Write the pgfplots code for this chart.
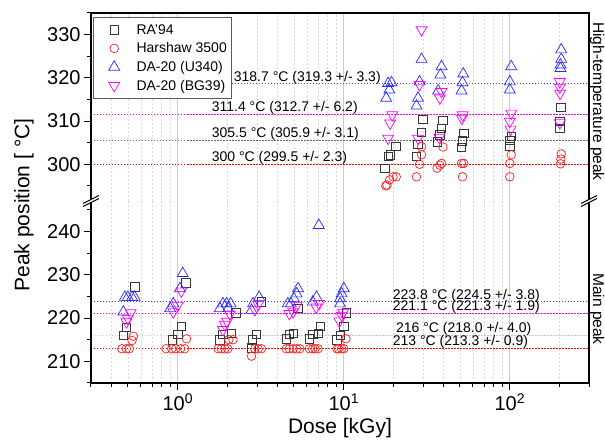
\documentclass[border=0pt]{standalone}
\usepackage{pgfplots}
\pgfplotsset{compat=1.18}
\usepackage{fontspec}
\setmainfont{Liberation Sans}
\definecolor{rablack}{RGB}{55,55,55}
\definecolor{hred}{RGB}{255,30,30}
\definecolor{ublue}{RGB}{40,40,255}
\definecolor{bmag}{RGB}{255,0,255}
\pgfplotsset{
  ra/.style={only marks, color=rablack, mark=square, mark size=4.2pt, mark options={line width=0.7pt},
    legend image code/.code={\path (0pt,0pt) (37.5pt,0pt); \draw[##1] plot coordinates {(17.5pt,0pt)};}},
  hs/.style={only marks, color=hred, mark=o, mark size=4.3pt, mark options={line width=0.7pt},
    legend image code/.code={\path (0pt,0pt) (37.5pt,0pt); \draw[##1] plot coordinates {(17.5pt,0pt)};}},
  uu/.style={only marks, color=ublue, mark=triangle, mark size=6.3pt, mark options={line width=0.7pt},
    legend image code/.code={\path (0pt,0pt) (37.5pt,0pt); \draw[##1] plot coordinates {(17.5pt,0pt)};}},
  bg/.style={only marks, color=bmag, mark=triangle, mark size=6.3pt, mark options={rotate=180, line width=0.7pt},
    legend image code/.code={\path (0pt,0pt) (37.5pt,0pt); \draw[##1] plot coordinates {(17.5pt,0pt)};}},
  refl/.style={forget plot, line width=1pt, dash pattern=on 1.5pt off 1.5pt},
}
\begin{document}
\begin{tikzpicture}
\path[use as bounding box] (-91pt,-61pt) rectangle (514pt,383pt);
% bottom panel
\begin{semilogxaxis}[scale only axis, width=498pt, height=182pt, xmin=0.3, xmax=300,
  at={(0pt,0pt)}, anchor=south west,
  axis line style={draw=none},
  tick align=outside, major tick length=7pt, minor tick length=4pt,
  tick style={black, line width=1pt},
  xtick={1,10,100},
  minor xtick={0.3,0.4,0.5,0.6,0.7,0.8,0.9,2,3,4,5,6,7,8,9,20,30,40,50,60,70,80,90,200,300},
  xmajorgrids, xminorgrids,
  major grid style={gray!40, line width=0.8pt},
  minor grid style={gray!30, line width=0.6pt, dash pattern=on 2pt off 2pt},
  ytick pos=left, xtick pos=bottom,
  tick label style={font=\fontsize{20}{24}\selectfont},
  clip=false,
  ymin=205, ymax=247, ytick={210,220,230,240}, minor ytick={205,215,225,235,245},
  yticklabels={210,220,230,240},
  xticklabels={10\textsuperscript{0},10\textsuperscript{1},10\textsuperscript{2}}]
\addplot[refl, color=red] coordinates {(0.3,213) (300,213)};
\addplot[refl, color=blue!75, dash pattern=on 1pt off 2pt, line width=1.2pt] coordinates {(0.3,223.8) (300,223.8)};
\addplot[refl, color=bmag] coordinates {(0.3,221.1) (300,221.1)};
\addplot[refl, color=gray!45] coordinates {(0.3,216) (300,216)};
\addplot[ra] coordinates {
(0.55,227.2)(0.49,217.9)(0.47,216.0)
(1.12,228.1)(1.05,218.1)(1.0,216.2)(0.93,215.0)
(2.24,221.2)(2.10,216.4)(1.87,216.2)(1.79,215.0)
(3.19,223.7)(2.98,216.2)(2.82,215.0)(2.78,213.1)
(5.3,222.2)(4.95,216.5)(4.7,216.2)(4.5,215.2)
(7.2,218.1)(7.0,216.5)(6.5,216.2)(6.2,215.2)
(10.4,221.2)(10.0,218.1)(9.5,216.0)(9.1,215.0)};
\addplot[hs] coordinates {
(0.46,212.9)(0.49,212.9)(0.51,212.9)(0.54,215.8)(0.53,214.8)
(0.85,212.9)(0.92,212.9)(0.97,212.9)(1.04,212.9)(1.10,212.9)(1.13,215.2)
(1.75,212.9)(1.83,212.9)(1.92,212.9)(2.0,212.9)(2.03,215.0)(2.15,215.0)
(2.91,212.9)(3.05,212.9)(3.19,212.9)(2.78,211.2)
(4.5,212.9)(4.7,212.9)(4.95,212.9)(5.2,212.9)(5.43,212.9)
(6.2,212.9)(6.5,212.9)(6.7,212.9)(7.0,212.9)
(9.1,212.9)(9.3,212.9)(9.7,212.9)(10.0,212.9)(10.3,215.2)};
\addplot[uu] coordinates {
(0.48,224.8)(0.50,224.8)(0.53,224.8)(0.55,224.8)(0.47,221.4)
(1.07,230.3)(1.03,226.8)(0.94,223.3)(0.90,222.2)
(1.87,223.3)(1.97,223.3)(2.08,223.3)(1.79,222.2)(2.01,222.2)
(3.09,224.8)(2.84,223.3)(2.78,221.8)
(5.3,226.8)(5.2,225.6)(5.0,224.5)(4.6,223.3)(4.8,223.3)
(6.85,224.8)(6.5,223.7)(7.07,241.4)
(10.0,226.8)(9.7,225.6)(9.5,224.5)(9.5,223.3)};
\addplot[bg] coordinates {
(0.52,221.2)(0.50,219.9)(0.49,219.1)
(1.05,226.2)(1.0,222.9)(0.94,221.4)
(2.06,220.9)(1.98,219.2)(1.92,218.5)(1.87,217.3)
(3.05,223.1)(2.91,221.9)
(5.2,222.9)(4.95,221.4)(4.7,221.0)
(7.1,223.3)(6.8,222.5)
(9.9,221.2)(9.7,220.6)(9.4,219.3)};
\node[anchor=west, inner sep=0pt, font=\fontsize{14}{16}\selectfont] at (axis cs:19.7,225.2) {223.8 °C (224.5 +/- 3.8)};
\node[anchor=west, inner sep=0pt, font=\fontsize{14}{16}\selectfont] at (axis cs:19.7,222.5) {221.1 °C (221.3 +/- 1.9)};
\node[anchor=west, inner sep=0pt, font=\fontsize{14}{16}\selectfont] at (axis cs:20.6,217.6) {216 °C (218.0 +/- 4.0)};
\node[anchor=west, inner sep=0pt, font=\fontsize{14}{16}\selectfont] at (axis cs:19.7,214.4) {213 °C (213.3 +/- 0.9)};
\end{semilogxaxis}
% top panel
\begin{semilogxaxis}[scale only axis, width=498pt, height=188pt, xmin=0.3, xmax=300,
  at={(0pt,182pt)}, anchor=south west,
  axis line style={draw=none},
  tick align=outside, major tick length=7pt, minor tick length=4pt,
  tick style={black, line width=1pt},
  xtick={1,10,100},
  minor xtick={0.3,0.4,0.5,0.6,0.7,0.8,0.9,2,3,4,5,6,7,8,9,20,30,40,50,60,70,80,90,200,300},
  xmajorgrids, xminorgrids,
  major grid style={gray!40, line width=0.8pt},
  minor grid style={gray!30, line width=0.6pt, dash pattern=on 2pt off 2pt},
  ytick pos=left,
  tick label style={font=\fontsize{20}{24}\selectfont},
  clip=false,
  ymin=291.5, ymax=335, ytick={300,310,320,330}, minor ytick={295,305,315,325,335},
  yticklabels={300,310,320,330},
  xticklabels={}, x tick style={draw=none},
  legend style={at={(0.004,0.979)}, anchor=north west, draw=black!65, line width=0.7pt, fill=white,
    font=\fontsize{14}{16}\selectfont, row sep=3pt, inner xsep=3pt, inner ysep=5pt},
  legend cell align=left]
\addplot[refl, color=red] coordinates {(0.3,300) (300,300)};
\addplot[refl, color=blue!75, dash pattern=on 1pt off 2pt, line width=1.2pt] coordinates {(0.3,318.7) (300,318.7)};
\addplot[refl, color=bmag] coordinates {(0.3,311.4) (300,311.4)};
\addplot[refl, color=black!60] coordinates {(0.3,305.5) (300,305.5)};
\addplot[ra] coordinates {
(20.6,304.2)(19.1,302.2)(18.5,301.9)(17.7,299.1)
(30.0,310.4)(29.4,307.4)(28.0,304.6)(27.4,301.8)
(39.6,310.2)(38.8,308.3)(37.9,306.8)(36.5,305.2)
(52.8,307.2)(51.9,305.4)(51.2,303.9)
(102,306.4)(100,305.6)(100,304.1)
(203,313.2)(200,309.9)(200,308.3)};
\addlegendentry{RA'94}
\addplot[hs] coordinates {
(20.7,297.1)(19.8,297.1)(18.9,296.4)(18.2,295.2)(17.9,295.0)
(29.4,304.1)(29.4,302.2)(28.6,300.0)(27.4,297.1)
(39.6,304.0)(38.8,300.2)(37.9,299.8)(36.5,299.1)
(52.8,300.2)(51.2,300.2)(51.9,297.1)
(102,302.2)(100,300.2)(100,297.1)
(204,302.4)(203,301.2)(202,300.1)};
\addlegendentry{Harshaw 3500}
\addplot[uu] coordinates {
(19.4,318.9)(18.5,318.7)(18.8,317.2)(18.0,315.3)
(29.4,324.3)(28.6,319.1)(28.0,315.3)(27.4,313.5)
(38.8,322.6)(38.2,320.7)(37.0,317.0)
(52.4,320.9)(51.9,318.9)(51.2,317.0)
(102,322.6)(100,319.1)(100,317.2)
(204,326.5)(204,324.3)(202,323.0)(202,322.2)};
\addlegendentry{DA-20 (U340)}
\addplot[bg] coordinates {
(19.6,311.4)(19.0,309.5)(18.5,306.0)
(29.4,331.1)(28.6,318.4)(28.0,306.0)
(38.8,316.8)(37.9,315.3)(37.6,306.2)
(52.0,311.4)(51.5,310.6)
(102,311.8)(100,309.9)(101,308.1)
(200,319.1)(200,317.8)(201,316.4)(200,309.6)};
\addlegendentry{DA-20 (BG39)}
\node[anchor=west, inner sep=0pt, font=\fontsize{14}{16}\selectfont] at (axis cs:2.17,320.0) {318.7 °C (319.3 +/- 3.3)};
\node[anchor=west, inner sep=0pt, font=\fontsize{14}{16}\selectfont] at (axis cs:1.6,313.0) {311.4 °C (312.7 +/- 6.2)};
\node[anchor=west, inner sep=0pt, font=\fontsize{14}{16}\selectfont] at (axis cs:1.6,307.0) {305.5 °C (305.9 +/- 3.1)};
\node[anchor=west, inner sep=0pt, font=\fontsize{14}{16}\selectfont] at (axis cs:1.6,301.5) {300 °C (299.5 +/- 2.3)};
\end{semilogxaxis}
% frame and breaks
\draw[line width=1.2pt] (0pt,0pt) rectangle (498pt,370pt);
\foreach \xx in {0,498}{
  \fill[white] (\xx pt-8pt,176.5pt) -- (\xx pt+8pt,184.5pt) -- (\xx pt+8pt,187.5pt) -- (\xx pt-8pt,179.5pt) -- cycle;
  \draw[line width=1pt] (\xx pt-8pt,176.5pt) -- (\xx pt+8pt,184.5pt) (\xx pt-8pt,179.5pt) -- (\xx pt+8pt,187.5pt);
}
\node[rotate=90, font=\fontsize{21}{24}\selectfont] at (-67pt,178pt) {Peak position [ °C]};
\node[font=\fontsize{21}{24}\selectfont] at (249pt,-45pt) {Dose [kGy]};
\node[rotate=-90, anchor=base, inner sep=0pt, font=\fontsize{15.5}{18}\selectfont] at (502pt,281.5pt) {High-temperature peak};
\node[rotate=-90, anchor=base, inner sep=0pt, font=\fontsize{15.5}{18}\selectfont] at (502pt,74pt) {Main peak};
\end{tikzpicture}
\end{document}
